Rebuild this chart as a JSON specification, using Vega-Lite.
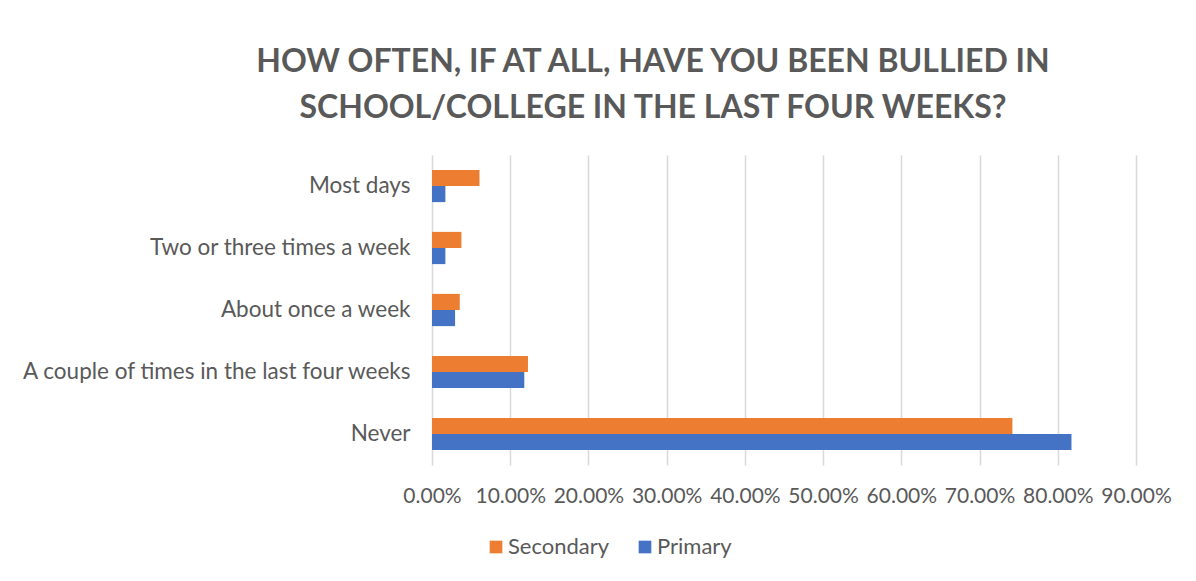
{
  "$schema": "https://vega.github.io/schema/vega-lite/v6.json",
  "width": 704,
  "height": 310,
  "autosize": "none",
  "padding": {"left": 432, "top": 155, "right": 60, "bottom": 116},
  "background": "white",
  "config": {
    "font": "Lato",
    "view": {"stroke": null}
  },
  "title": {
    "text": ["HOW OFTEN, IF AT ALL, HAVE YOU BEEN BULLIED IN", "SCHOOL/COLLEGE IN THE LAST FOUR WEEKS?"],
    "font": "Lato",
    "fontSize": 32,
    "fontWeight": "bold",
    "color": "#595959",
    "anchor": "middle",
    "dx": -131,
    "offset": 30,
    "lineHeight": 46
  },
  "data": {
    "values": [
      {"cat": "Most days", "group": "Secondary", "value": 0.0607},
      {"cat": "Most days", "group": "Primary", "value": 0.0171},
      {"cat": "Two or three times a week", "group": "Secondary", "value": 0.0376},
      {"cat": "Two or three times a week", "group": "Primary", "value": 0.0171},
      {"cat": "About once a week", "group": "Secondary", "value": 0.0355},
      {"cat": "About once a week", "group": "Primary", "value": 0.0295},
      {"cat": "A couple of times in the last four weeks", "group": "Secondary", "value": 0.1227},
      {"cat": "A couple of times in the last four weeks", "group": "Primary", "value": 0.118},
      {"cat": "Never", "group": "Secondary", "value": 0.742},
      {"cat": "Never", "group": "Primary", "value": 0.8175}
    ]
  },
  "mark": {"type": "bar"},
  "encoding": {
    "y": {
      "field": "cat",
      "type": "nominal",
      "sort": ["Most days", "Two or three times a week", "About once a week", "A couple of times in the last four weeks", "Never"],
      "scale": {"paddingInner": 0.48, "paddingOuter": 0.24},
      "axis": {
        "title": null,
        "labelFontSize": 22.5,
        "labelColor": "#595959",
        "ticks": false,
        "domain": false,
        "labelPadding": 22,
        "labelLimit": 500
      }
    },
    "yOffset": {
      "field": "group",
      "type": "nominal",
      "sort": ["Secondary", "Primary"]
    },
    "x": {
      "field": "value",
      "type": "quantitative",
      "scale": {"domain": [0, 0.9], "nice": false},
      "axis": {
        "title": null,
        "format": ".2%",
        "values": [0, 0.1, 0.2, 0.3, 0.4, 0.5, 0.6, 0.7, 0.8, 0.9],
        "grid": true,
        "gridColor": "#d9d9d9",
        "gridWidth": 1.5,
        "domain": false,
        "ticks": false,
        "labelFontSize": 21,
        "labelColor": "#595959",
        "labelPadding": 20,
        "labelOverlap": false,
        "labelFlush": false
      }
    },
    "color": {
      "field": "group",
      "type": "nominal",
      "scale": {"domain": ["Secondary", "Primary"], "range": ["#ED7D31", "#4472C4"]},
      "legend": {
        "title": null,
        "orient": "none",
        "direction": "horizontal",
        "legendX": 53,
        "legendY": 381,
        "symbolType": "square",
        "symbolSize": 160,
        "symbolStrokeWidth": 0,
        "labelFontSize": 22,
        "labelColor": "#595959",
        "columnPadding": 24,
        "labelOffset": 1,
        "symbolOpacity": 1
      }
    }
  }
}
